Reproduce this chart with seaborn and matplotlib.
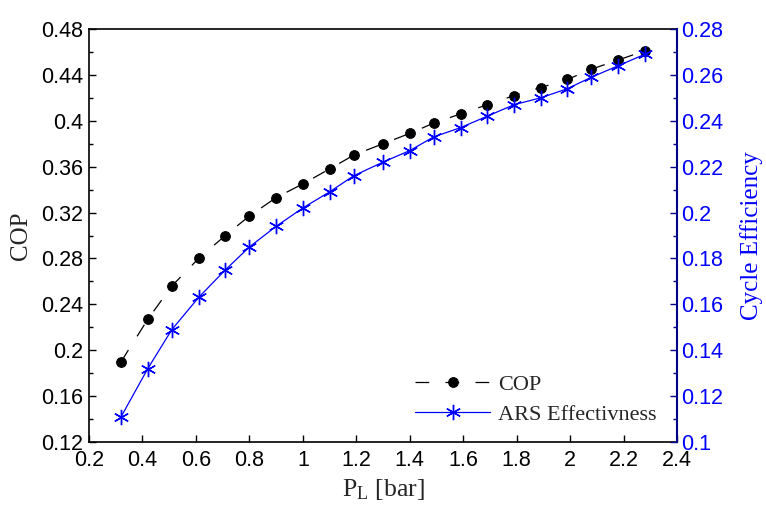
import matplotlib
matplotlib.use("Agg")
import matplotlib.pyplot as plt
from matplotlib.ticker import MultipleLocator
import seaborn as sns
import pandas as pd

# pressure P_L [bar]
p_low = [0.32, 0.42, 0.51, 0.61, 0.71, 0.80, 0.90, 1.00, 1.10, 1.19, 1.30,
         1.40, 1.49, 1.59, 1.69, 1.79, 1.89, 1.99, 2.08, 2.18, 2.28]
# COP (left axis)
cop = [0.190, 0.227, 0.256, 0.280, 0.300, 0.317, 0.333, 0.345, 0.358, 0.370, 0.380,
       0.389, 0.398, 0.406, 0.414, 0.422, 0.429, 0.436, 0.445, 0.453, 0.461]
# cycle efficiency / ARS effectiveness (right axis)
eff = [0.111, 0.132, 0.149, 0.163, 0.175, 0.185, 0.194, 0.202, 0.209, 0.216, 0.222,
       0.227, 0.233, 0.237, 0.242, 0.247, 0.250, 0.254, 0.259, 0.264, 0.269]

df = pd.DataFrame({"p": p_low, "cop": cop, "eff": eff})

sns.set_style("ticks")
plt.rcParams["font.family"] = ["Liberation Sans", "DejaVu Sans"]
plt.rcParams["mathtext.fontset"] = "custom"
plt.rcParams["mathtext.rm"] = "Liberation Serif"
plt.rcParams["mathtext.it"] = "Liberation Serif:italic"
serif = ["Liberation Serif", "DejaVu Serif"]
blue = "#0000FF"
navy = "#00008B"

fig = plt.figure(figsize=(7.66, 5.09), dpi=100)
ax = fig.add_axes([0.1162, 0.1316, 0.7676, 0.8114])
ax2 = ax.twinx()

sns.lineplot(data=df, x="p", y="cop", ax=ax, color="black", linewidth=0.9,
             linestyle=(0, (11, 13)), marker="o", markersize=7,
             markeredgecolor="black", label="COP", legend=False)
sns.lineplot(data=df, x="p", y="eff", ax=ax2, color=blue, linewidth=0.9,
             marker=(6, 2, 0), markersize=11, markeredgewidth=1.0,
             markeredgecolor=blue, label="ARS Effectivness", legend=False)

ax.set_xlim(0.2, 2.4)
ax.set_ylim(0.12, 0.48)
ax2.set_ylim(0.10, 0.28)
ax.xaxis.set_major_locator(MultipleLocator(0.2))
ax.yaxis.set_major_locator(MultipleLocator(0.04))
ax.yaxis.set_minor_locator(MultipleLocator(0.02))
ax2.yaxis.set_major_locator(MultipleLocator(0.02))
ax2.yaxis.set_minor_locator(MultipleLocator(0.01))

ax.xaxis.set_major_formatter(plt.FuncFormatter(lambda v, _: f"{v:.1f}".rstrip("0").rstrip(".")))
ax.yaxis.set_major_formatter(plt.FuncFormatter(lambda v, _: f"{v:.2f}".rstrip("0").rstrip(".")))
ax2.yaxis.set_major_formatter(plt.FuncFormatter(lambda v, _: f"{v:.2f}".rstrip("0").rstrip(".")))

ax.tick_params(axis="both", which="both", direction="in", labelsize=15.5, colors="black")
ax.tick_params(axis="both", which="major", length=5, width=1)
ax.tick_params(axis="x", which="major", pad=6)
ax.tick_params(axis="y", which="major", pad=4)
ax.tick_params(axis="y", which="minor", length=3, width=1)
ax.tick_params(axis="x", which="minor", bottom=False)
ax2.tick_params(axis="y", which="both", direction="in", labelsize=15.5,
                colors=navy, labelcolor=blue)
ax2.tick_params(axis="y", which="major", length=5, width=1, pad=3)
ax2.tick_params(axis="y", which="minor", length=3, width=1)

for s in ["left", "bottom", "top"]:
    ax.spines[s].set_color("black")
    ax.spines[s].set_linewidth(1.2)
ax2.spines["right"].set_color(navy)
ax2.spines["right"].set_linewidth(1.5)
ax2.spines["top"].set_visible(False)
ax2.spines["left"].set_visible(False)
ax2.spines["bottom"].set_visible(False)
ax.spines["right"].set_visible(False)

ax.set_xlabel(r"P$_\mathrm{L}$ [bar]", family=serif, fontsize=18.5, labelpad=4)
ax.set_ylabel("COP", family=serif, fontsize=18, labelpad=7)
ax2.set_ylabel("Cycle Efficiency", family=serif, fontsize=18, color=blue, labelpad=12)

h1, l1 = ax.get_legend_handles_labels()
h2, l2 = ax2.get_legend_handles_labels()
ax.legend(h1 + h2, l1 + l2, loc="center left", bbox_to_anchor=(0.554, 0.1025),
          frameon=False, handlelength=3.4, handletextpad=0.36, borderpad=0,
          borderaxespad=0, prop={"family": serif, "size": 16}, labelspacing=0.41)

fig.savefig("out.png", dpi=100)
